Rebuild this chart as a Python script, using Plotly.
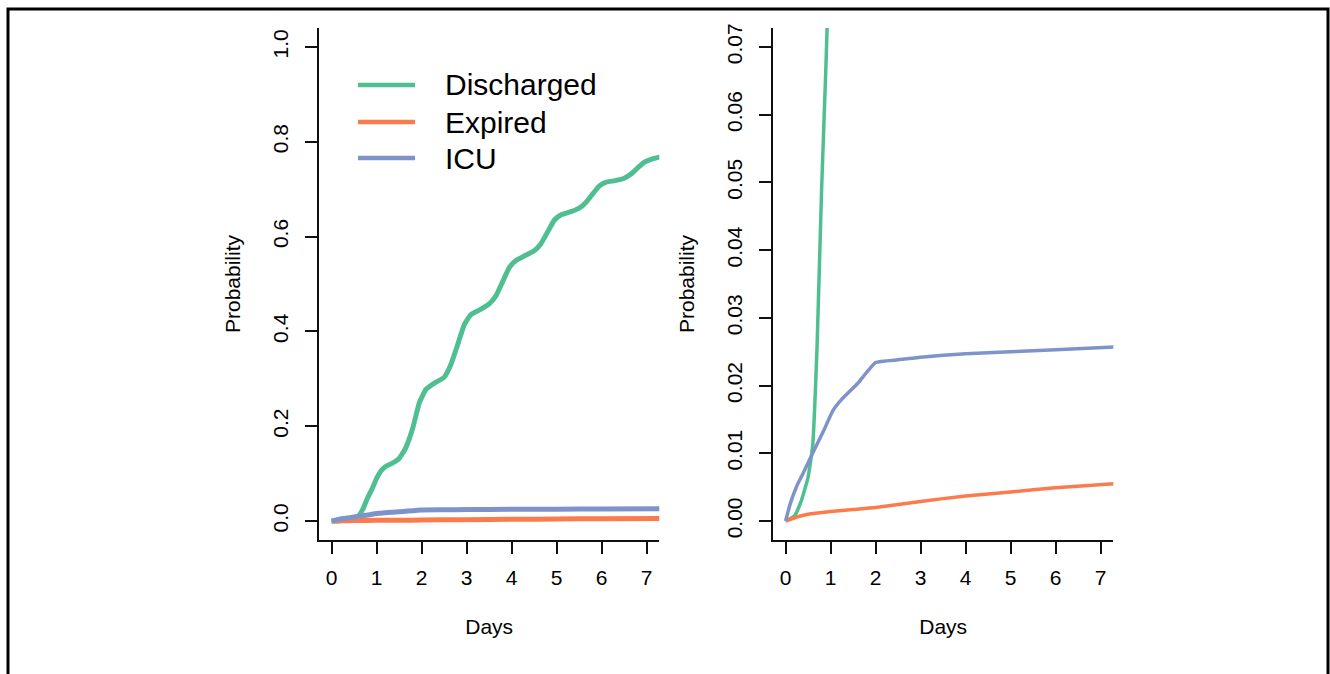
import plotly.graph_objects as go

# ---------------- data ----------------
days_discharged = [0, 0.2, 0.35, 0.5, 0.6, 0.7, 0.8, 0.9, 1.0, 1.1, 1.2, 1.35, 1.5, 1.65,
                   1.8, 1.95, 2.1, 2.3, 2.5, 2.65, 2.8, 2.95, 3.1, 3.3, 3.5, 3.65, 3.8,
                   3.95, 4.1, 4.3, 4.5, 4.65, 4.8, 4.95, 5.1, 5.3, 5.5, 5.65, 5.8, 5.95,
                   6.1, 6.3, 6.5, 6.65, 6.8, 6.95, 7.1, 7.3]
p_discharged = [0, 0.0008, 0.003, 0.0065, 0.011, 0.026, 0.049, 0.068, 0.090, 0.106, 0.115,
                0.122, 0.132, 0.155, 0.195, 0.250, 0.278, 0.292, 0.303, 0.330, 0.372,
                0.415, 0.436, 0.446, 0.458, 0.475, 0.505, 0.535, 0.550, 0.560, 0.570,
                0.585, 0.610, 0.635, 0.646, 0.652, 0.660, 0.672, 0.690, 0.707, 0.715,
                0.718, 0.723, 0.732, 0.745, 0.757, 0.763, 0.768]

days_expired = [0, 0.25, 0.5, 1.0, 1.5, 2.0, 3.0, 4.0, 5.0, 6.0, 7.3]
p_expired = [0, 0.0006, 0.0010, 0.0014, 0.0017, 0.0020, 0.0029, 0.0037, 0.0043, 0.0049, 0.0055]

days_icu = [0, 0.1, 0.25, 0.4, 0.6, 0.85, 1.05, 1.25, 1.6, 2.0, 2.5, 3.0, 4.0, 5.0, 6.0, 7.3]
p_icu = [0, 0.0025, 0.0052, 0.0072, 0.0100, 0.0134, 0.0163, 0.0180, 0.0203, 0.0234,
         0.0238, 0.0242, 0.0247, 0.0250, 0.0253, 0.0257]

series_names = ["Discharged", "Expired", "ICU"]
series_colors = ["#4FBF92", "#FC7B4C", "#7F93CB"]

x_ticks = [0, 1, 2, 3, 4, 5, 6, 7]
left_y_ticks = [0.0, 0.2, 0.4, 0.6, 0.8, 1.0]
left_y_labels = ["0.0", "0.2", "0.4", "0.6", "0.8", "1.0"]
right_y_ticks = [0.0, 0.01, 0.02, 0.03, 0.04, 0.05, 0.06, 0.07]
right_y_labels = ["0.00", "0.01", "0.02", "0.03", "0.04", "0.05", "0.06", "0.07"]

# ---------------- figure ----------------
W, H = 1330, 674
FONT = "Liberation Sans, Arial, Helvetica, sans-serif"


def fx(p):
    return p / W


def fy(p):
    return 1 - p / H


fig = go.Figure()
series = [(days_discharged, p_discharged), (days_expired, p_expired), (days_icu, p_icu)]
for (xs, ys), name, col in zip(series, series_names, series_colors):
    fig.add_trace(go.Scatter(x=xs, y=ys, mode="lines", name=name, showlegend=False,
                             line=dict(color=col, width=5, shape="spline", smoothing=0.4),
                             xaxis="x", yaxis="y"))
for (xs, ys), name, col in zip(series, series_names, series_colors):
    fig.add_trace(go.Scatter(x=xs, y=ys, mode="lines", name=name, showlegend=False,
                             line=dict(color=col, width=3.5, shape="spline", smoothing=0.4),
                             xaxis="x2", yaxis="y2"))

axis_common = dict(showline=True, linecolor="#111", linewidth=2, ticks="outside",
                   ticklen=12, tickwidth=2, tickcolor="#111", showgrid=False,
                   zeroline=False, automargin=False,
                   tickfont=dict(family=FONT, size=21, color="#000"))

x_common = dict(axis_common, range=[-0.28, 7.28], tickvals=x_ticks, ticklabelstandoff=6,
                title=dict(text="Days", font=dict(family=FONT, size=21, color="#000"),
                           standoff=31))
y_common = dict(axis_common, tickangle=-90, ticklabelstandoff=9,
                title=dict(text="Probability", font=dict(family=FONT, size=21, color="#000"),
                           standoff=22))

fig.update_layout(
    width=W, height=H,
    margin=dict(l=0, r=0, t=0, b=0),
    paper_bgcolor="white", plot_bgcolor="white",
    showlegend=False,
    xaxis=dict(x_common, domain=[fx(319), fx(659.3)], anchor="y"),
    yaxis=dict(y_common, domain=[fy(540), fy(28)], range=[-0.04, 1.04],
               tickvals=left_y_ticks, ticktext=left_y_labels, anchor="x"),
    xaxis2=dict(x_common, domain=[fx(773), fx(1113.3)], anchor="y2"),
    yaxis2=dict(y_common, domain=[fy(540), fy(28)], range=[-0.0028, 0.0728],
                tickvals=right_y_ticks, ticktext=right_y_labels, anchor="x2"),
)

# outer frame
fig.add_shape(type="rect", xref="paper", yref="paper", x0=fx(8), x1=fx(1328),
              y0=-0.05, y1=fy(9), line=dict(color="black", width=3),
              fillcolor="rgba(0,0,0,0)", layer="above")

# in-plot legend (swatches + labels)
legend_rows_px = [85, 122, 158]
for name, col, ypx in zip(series_names, series_colors, legend_rows_px):
    fig.add_shape(type="line", xref="paper", yref="paper", x0=fx(358), x1=fx(415),
                  y0=fy(ypx), y1=fy(ypx), line=dict(color=col, width=4.5))
    fig.add_annotation(xref="paper", yref="paper", x=fx(443), y=fy(ypx), text=name,
                       showarrow=False, xanchor="left", yanchor="middle",
                       font=dict(family=FONT, size=30, color="#000"))

fig.write_html("out.html")
